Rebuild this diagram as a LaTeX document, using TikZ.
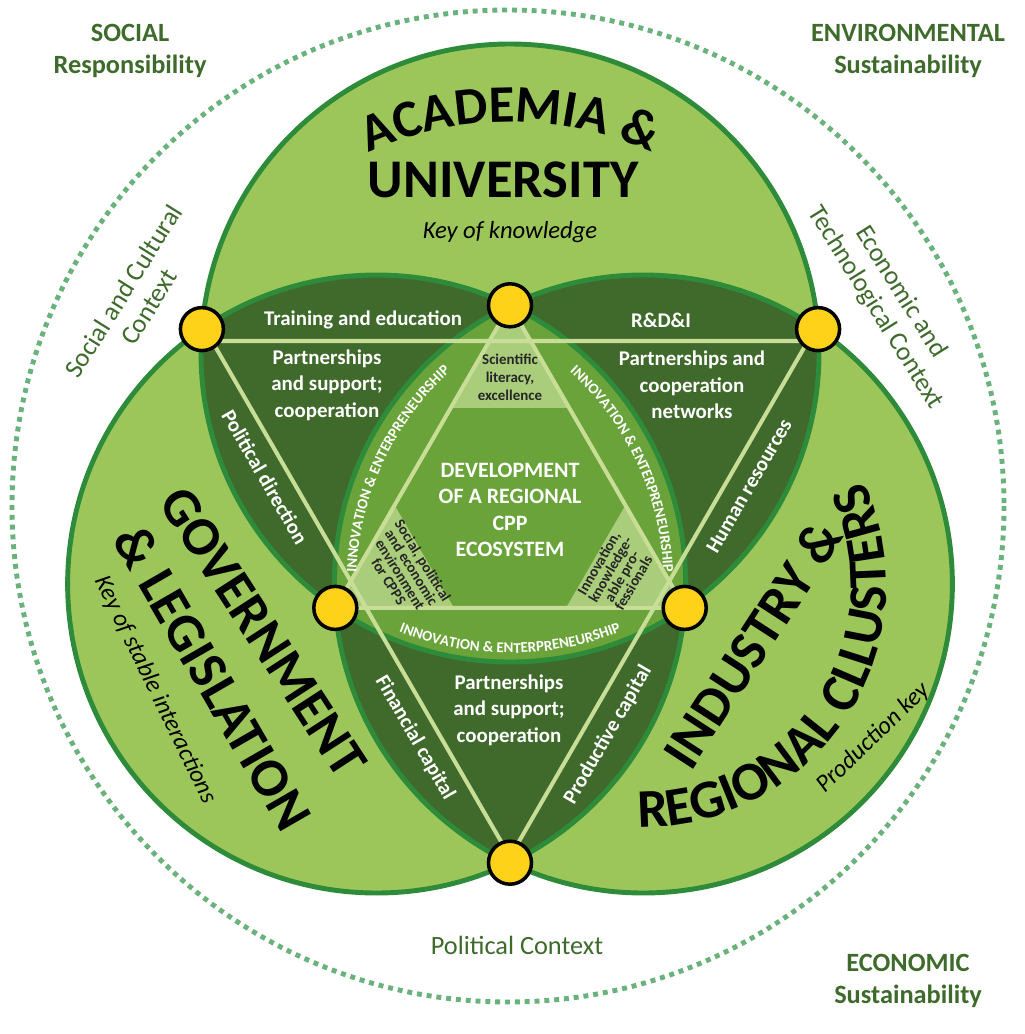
\documentclass[tikz,border=0pt]{standalone}
\usepackage{fontspec}
\setmainfont{Carlito}
\usetikzlibrary{calc,decorations.text}

\definecolor{leafgreen}{RGB}{157,198,90}
\definecolor{rimgreen}{RGB}{46,139,58}
\definecolor{lensgreen}{RGB}{63,106,43}
\definecolor{coregreen}{RGB}{106,163,58}
\definecolor{palegreen}{RGB}{170,205,124}
\definecolor{linegreen}{RGB}{200,221,150}
\definecolor{dotyellow}{RGB}{255,210,26}
\definecolor{labelgreen}{RGB}{62,107,44}
\definecolor{mintgreen}{RGB}{106,178,124}

\begin{document}
\begin{tikzpicture}[x=0.02cm,y=-0.02cm,
  knot/.style={circle,draw=black,fill=dotyellow,line width=2pt,minimum size=0.86cm,inner sep=0pt},
  tie/.style={draw=linegreen,line width=2.3pt},
  rim/.style={draw=rimgreen,line width=2.8pt},
  lens/.style={text=white,align=center,font=\bfseries\fontsize{11.9}{15}\selectfont},
  corner/.style={text=black!85,align=center,font=\bfseries\fontsize{8.5}{10.2}\selectfont},
  tight/.style={text=black!85,align=center,font=\bfseries\fontsize{8.5}{7.6}\selectfont},
  core/.style={text=white,align=center,font=\bfseries\fontsize{12.5}{15}\selectfont},
  title/.style={font=\bfseries\fontsize{31}{34}\selectfont},
  keytext/.style={font=\itshape\fontsize{14}{16}\selectfont},
  pillar/.style={text=labelgreen,align=center,font=\bfseries\fontsize{15}{18}\selectfont},
  context/.style={text=labelgreen,align=center,font=\fontsize{15}{17}\selectfont},
  ribbon/.style={decorate,decoration={text along path,text align=center,text color=white,
    text={|\bfseries\fontsize{8.5}{10}\selectfont|INNOVATION {\&} ENTERPRENEURSHIP}}}]
\fill[white] (0,0) rectangle (1024,1034);
\useasboundingbox (0,0) rectangle (1024,1034);

\coordinate (O) at (508,506);
\coordinate (A) at (510,353);
\coordinate (B) at (376.63,584);
\coordinate (C) at (643.37,584);
\coordinate (pT) at (510,305.3);
\coordinate (pL) at (335.3,607.9);
\coordinate (pR) at (684.7,607.9);
\coordinate (qL) at (201.9,329.1);
\coordinate (qR) at (818.1,329.1);
\coordinate (qB) at (510,862.7);
\coordinate (vL) at (212,341);
\coordinate (vR) at (808,341);
\coordinate (vB) at (510,857);

\draw[mintgreen,line width=2.8pt,dash pattern=on 2.8pt off 2.8pt] (O) circle[radius=496];

\fill[leafgreen] (A) circle[radius=309] (B) circle[radius=309] (C) circle[radius=309];
\begin{scope}
  \clip (A) circle[radius=309];
  \fill[lensgreen] (B) circle[radius=309] (C) circle[radius=309];
\end{scope}
\begin{scope}
  \clip (B) circle[radius=309];
  \fill[lensgreen] (C) circle[radius=309];
\end{scope}
\begin{scope}
  \clip (A) circle[radius=309];
  \clip (B) circle[radius=309];
  \fill[coregreen] (C) circle[radius=309];
\end{scope}
\fill[palegreen] (pT) -- (pL) -- (pR) -- cycle;
\fill[coregreen] ($(pT)!.34!(pL)$) -- ($(pL)!.34!(pT)$) -- ($(pL)!.34!(pR)$) -- ($(pR)!.34!(pL)$)
  -- ($(pR)!.34!(pT)$) -- ($(pT)!.34!(pR)$) -- cycle;
\draw[rim] (A) circle[radius=309] (B) circle[radius=309] (C) circle[radius=309];

\draw[tie] (pT) -- (pL) -- (pR) -- cycle;
\draw[tie] (vL) -- (vR) -- (vB) -- cycle;

\node[knot] (dT) at (pT) {};
\node[knot] (dL) at (pL) {};
\node[knot] (dR) at (pR) {};
\node[knot] (eL) at (qL) {};
\node[knot] (eR) at (qR) {};
\node[knot] (eB) at (qB) {};

\path[ribbon] (A) ++(120:300) arc[start angle=120,end angle=60,radius=300];
\path[ribbon] (C) ++(-190:287) arc[start angle=-190,end angle=-120,radius=287];
\path[ribbon] (B) ++(-60:287) arc[start angle=-60,end angle=10,radius=287];

\path[decorate,decoration={text along path,text align=center,
  text={|\bfseries\fontsize{30}{34}\selectfont|ACADEMIA {\&}}}]
  (510,462) ++(-125:340) arc[start angle=-125,end angle=-55,radius=340];
\node[title] (univ) at (503,180) {UNIVERSITY};
\node[keytext] (knowkey) at (510,232) {Key of knowledge};

\node[title,rotate=-57] (gov) at (263,632) {GOVERNMENT};
\node[title,rotate=-60] (legis) at (213,678) {\& LEGISLATION};
\node[keytext,rotate=-64] (stablekey) at (155,690) {Key of stable interactions};

\node[title,rotate=57] (indus) at (752,644) {INDUSTRY \&};
\path[decorate,decoration={text along path,text align=center,
  text={|\bfseries\fontsize{31}{34}\selectfont|REGIONAL CLLUSTERS}}]
  (C) ++(104:243) arc[start angle=104,end angle=-38,radius=243];
\node[keytext,rotate=44] (prodkey) at (873,738) {Production key};

\node[lens] (train) at (363,320) {Training and education};
\node[lens] (rdi) at (661,320) {R\&D\&I};
\node[lens] (partL) at (327,385) {Partnerships\\and support;\\cooperation};
\node[lens] (partR) at (692,385) {Partnerships and\\cooperation\\networks};
\node[lens] (partB) at (509,710) {Partnerships\\and support;\\cooperation};
\node[lens,rotate=-60] (polit) at (265,477) {Political direction};
\node[lens,rotate=60] (human) at (749,486) {Human resources};
\node[lens,rotate=-60] (finan) at (415,738) {Financial capital};
\node[lens,rotate=60] (produc) at (608,735) {Productive capital};

\node[core] (ecosys) at (510,510) {DEVELOPMENT\\OF A REGIONAL\\CPP\\ECOSYSTEM};
\node[corner] (scien) at (510,377) {Scientific\\literacy,\\excellence};
\node[tight,rotate=-58] (socenv) at (406,571) {Social, political\\and economic\\environment\\for CPPS};
\node[tight,rotate=60] (profs) at (616,573) {Innovation,\\knowledge-\\able pro-\\fessionals};

\node[pillar] (social) at (130,51) {SOCIAL\\Responsibility};
\node[pillar] (environ) at (908,51) {ENVIRONMENTAL\\Sustainability};
\node[pillar] (econ) at (908,981) {ECONOMIC\\Sustainability};
\node[context] (polctx) at (517,945) {Political Context};
\node[context,rotate=58] (socctx) at (136,299) {Social and Cultural\\Context};
\node[context,rotate=-58] (ecoctx) at (888,300) {Economic and\\Technological Context};
\end{tikzpicture}
\end{document}
